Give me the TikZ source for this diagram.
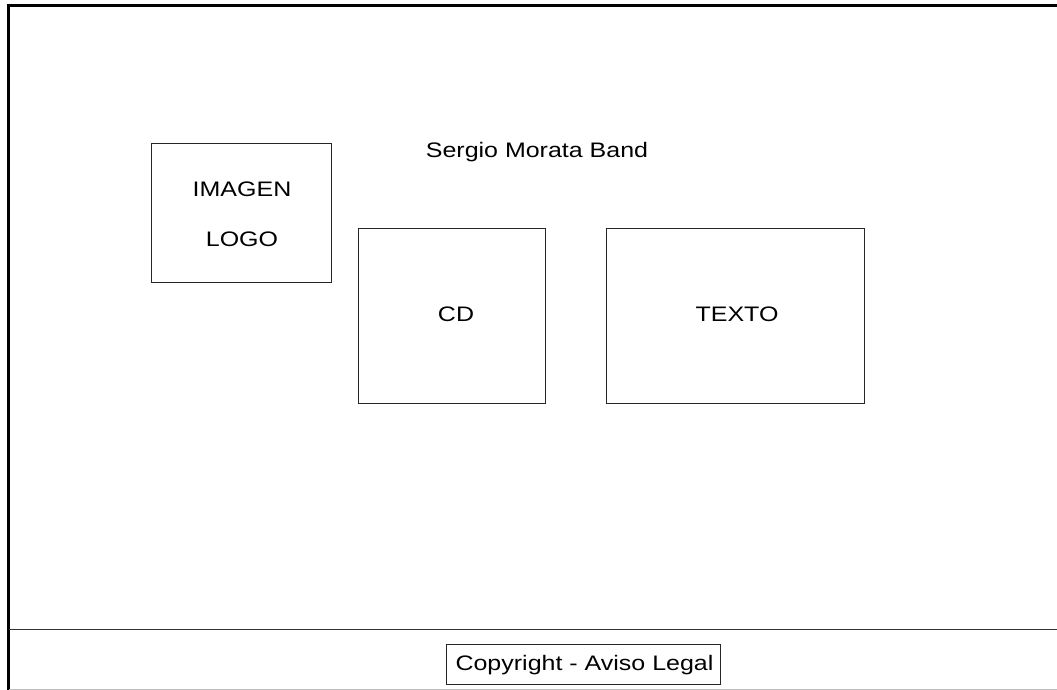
\documentclass[tikz,border=0pt]{standalone}
\usepackage{fontspec}
\setmainfont{Liberation Sans}[FakeStretch=1.19]
\begin{document}
\begin{tikzpicture}[x=1pt,y=-1pt,
  box/.style={draw=black!85,line width=1pt},
  lbl/.style={inner sep=0pt,font=\fontsize{21}{25}\selectfont}]
\useasboundingbox (0,0) rectangle (1057,690);
% outer frame
\draw[line width=3pt] (8.5,690) -- (8.5,5.5) -- (1057,5.5);
\draw[line width=1.5pt,black!80] (8.5,629.5) -- (1057,629.5);
\draw[line width=1pt,black!25] (8.5,689.3) -- (1057,689.3);
% boxes
\draw[box] (151.5,143.5) rectangle (331.5,282.5);
\node[lbl] (imagen) at (242,189) {IMAGEN};
\node[lbl] (logo) at (242,239) {LOGO};
\node[lbl] (title) at (537,152) {Sergio Morata Band};
\draw[box] (358.5,228.5) rectangle (545.5,403.5);
\node[lbl] (cd) at (456,314) {CD};
\draw[box] (606.5,228.5) rectangle (864.5,403.5);
\node[lbl] (texto) at (737,314) {TEXTO};
\draw[box] (446.5,644.5) rectangle (720.5,684.5);
\node[lbl] (copy) at (584.5,665) {Copyright - Aviso Legal};
\end{tikzpicture}
\end{document}
